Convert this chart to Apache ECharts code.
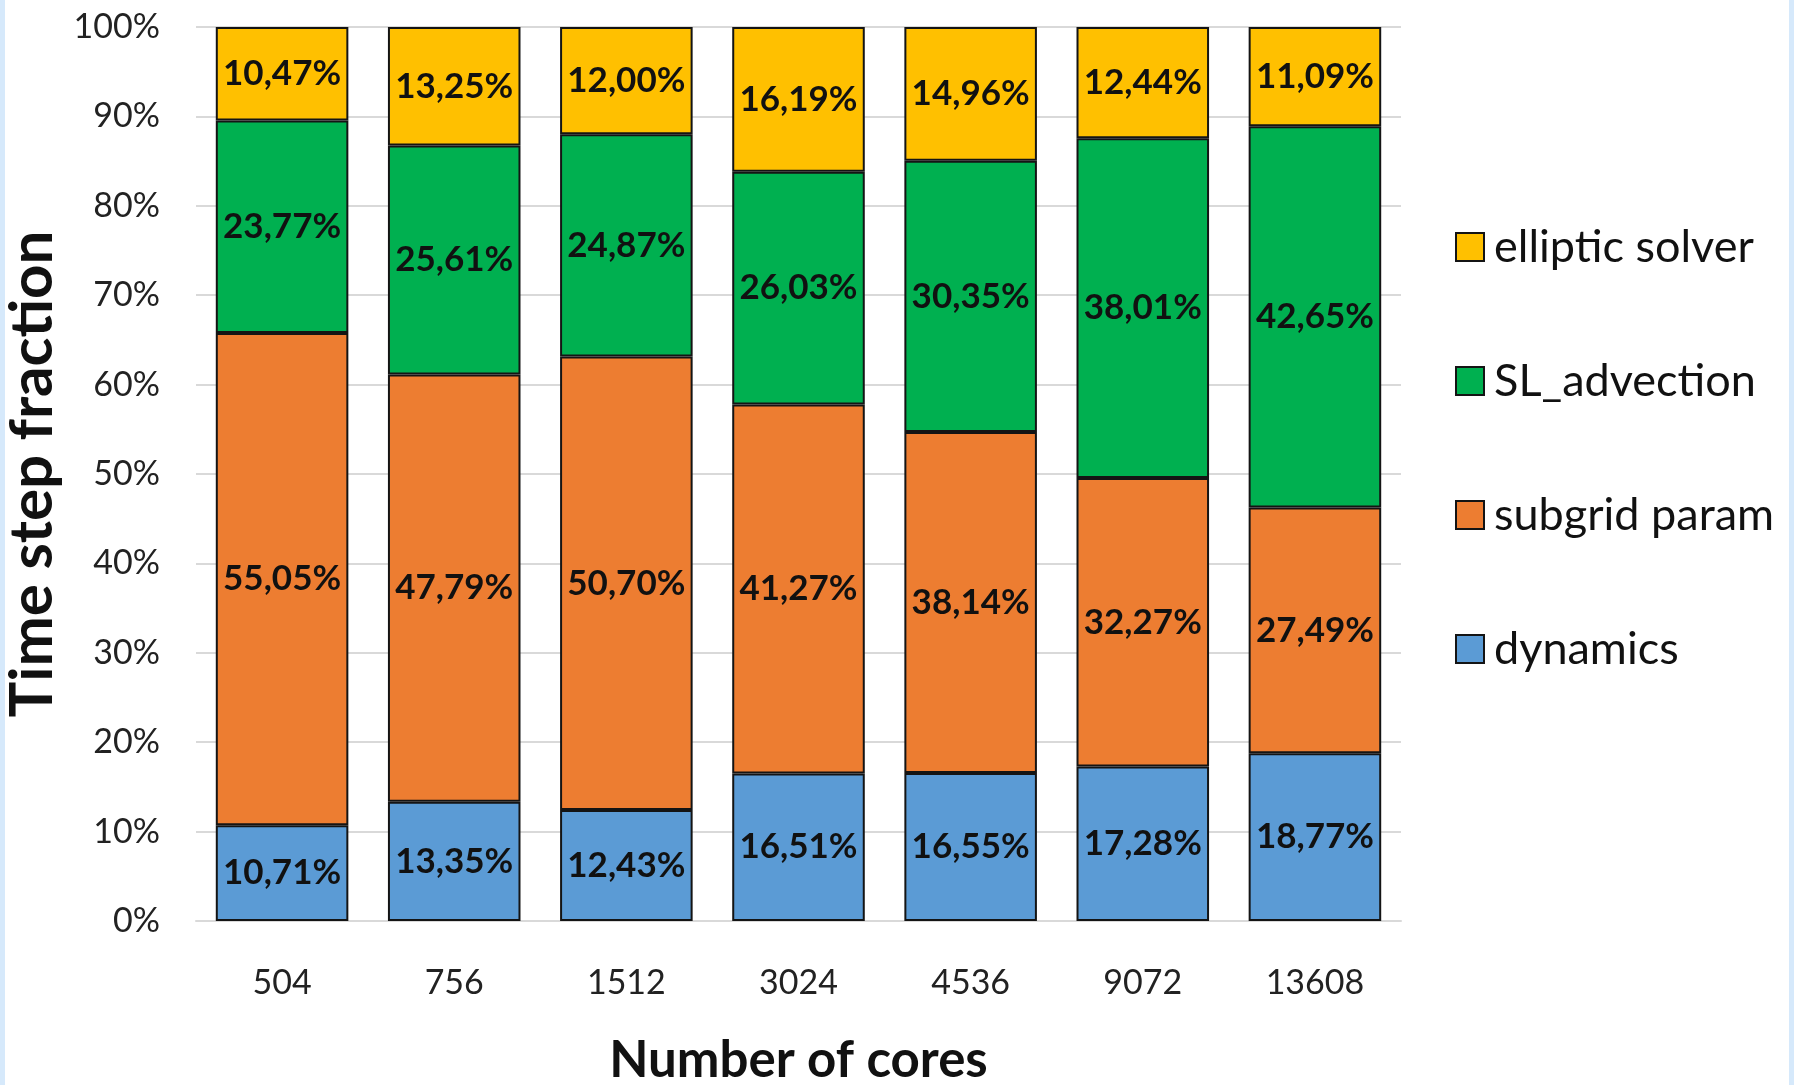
<!DOCTYPE html>
<html>
<head>
<meta charset="utf-8">
<title>Time step fraction by number of cores</title>
<script src="https://cdn.jsdelivr.net/npm/echarts@6/dist/echarts.min.js"></script>
<style>
  html, body { margin: 0; padding: 0; background: #ffffff; }
  #chart { width: 1794px; height: 1085px; }
  .edge { position: absolute; top: 0; width: 5px; height: 1085px; background: #d6e9fb; }
</style>
</head>
<body>
<div id="chart"></div>
<div class="edge" style="left:0"></div>
<div class="edge" style="left:1789px"></div>
<script>
// Number of cores on the x axis
const cores = ['504', '756', '1512', '3024', '4536', '9072', '13608'];

// Share of one time step spent in each component, in percent
const dynamics       = [10.71, 13.35, 12.43, 16.51, 16.55, 17.28, 18.77];
const subgridParam   = [55.05, 47.79, 50.70, 41.27, 38.14, 32.27, 27.49];
const slAdvection    = [23.77, 25.61, 24.87, 26.03, 30.35, 38.01, 42.65];
const ellipticSolver = [10.47, 13.25, 12.00, 16.19, 14.96, 12.44, 11.09];

const legendOrder = ['elliptic solver', 'SL_advection', 'subgrid param', 'dynamics'];

const FONT = 'Lato, "Open Sans", sans-serif';
const fmt = v => v.toFixed(2).replace('.', ',') + '%';

function stackSeries(name, values, color) {
  return {
    name: name,
    type: 'bar',
    stack: 'total',
    barCategoryGap: '23%',
    data: values,
    itemStyle: { color: color, borderColor: '#141414', borderWidth: 2 },
    label: {
      show: true,
      position: 'inside',
      formatter: p => fmt(p.value),
      color: '#111111',
      fontFamily: FONT,
      fontWeight: 'bold',
      fontSize: 35
    }
  };
}

const chart = echarts.init(document.getElementById('chart'), null, { renderer: 'canvas' });
chart.setOption({
  backgroundColor: '#ffffff',
  animation: false,
  grid: { left: 196, right: 393, top: 27, bottom: 164, outerBoundsMode: 'none' },
  legend: {
    orient: 'vertical',
    left: 1455,
    top: 224,
    padding: 0,
    data: legendOrder,
    icon: 'rect',
    itemWidth: 28,
    itemHeight: 28,
    itemGap: 88,
    itemStyle: { borderColor: '#141414', borderWidth: 2 },
    textStyle: {
      fontFamily: FONT,
      fontSize: 45,
      lineHeight: 46,
      color: '#111111',
      padding: [0, 0, 0, 5]
    }
  },
  xAxis: {
    type: 'category',
    data: cores,
    name: 'Number of cores',
    nameLocation: 'middle',
    nameGap: 114,
    nameTextStyle: { fontFamily: FONT, fontWeight: 'bold', fontSize: 51, color: '#111111' },
    axisLine: { lineStyle: { color: '#d9d9d9', width: 2 } },
    axisTick: { show: false },
    axisLabel: { fontFamily: FONT, fontSize: 34, color: '#222222', margin: 45 }
  },
  yAxis: {
    type: 'value',
    min: 0,
    max: 100,
    interval: 10,
    name: 'Time step fraction',
    nameLocation: 'middle',
    nameGap: 129,
    nameRotate: 90,
    nameTextStyle: { fontFamily: FONT, fontWeight: 'bold', fontSize: 60, color: '#111111' },
    axisLine: { show: false },
    axisTick: { show: false },
    axisLabel: { fontFamily: FONT, fontSize: 34, color: '#222222', margin: 36, formatter: '{value}%' },
    splitLine: { lineStyle: { color: '#d9d9d9', width: 2 } }
  },
  series: [
    stackSeries('dynamics', dynamics, '#5B9BD5'),
    stackSeries('subgrid param', subgridParam, '#ED7D31'),
    stackSeries('SL_advection', slAdvection, '#00B050'),
    stackSeries('elliptic solver', ellipticSolver, '#FFC000')
  ]
});
</script>
</body>
</html>
